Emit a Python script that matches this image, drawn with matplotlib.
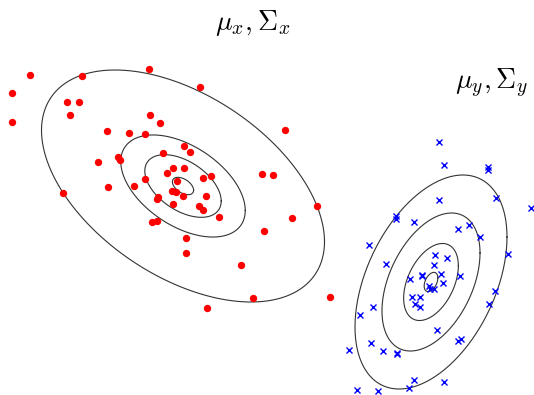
import matplotlib
matplotlib.use("Agg")
import matplotlib.pyplot as plt
import numpy as np

plt.rcParams["mathtext.fontset"] = "cm"

# Sample points (image-like coordinates, y grows downwards)
x_pts = np.array([
    (30, 75), (82, 76), (149, 69), (200, 87), (12, 93), (67, 102), (79, 102),
    (70, 115), (12, 122), (150, 115), (160, 123), (285, 130), (107, 131),
    (129, 133), (145, 134), (184, 146), (190, 152), (163, 153), (118, 157),
    (120, 160), (98, 162), (173, 168), (184, 168), (167, 173), (262, 174),
    (273, 175), (203, 178), (211, 176), (145, 179), (177, 181), (108, 187),
    (134, 186), (172, 191), (176, 192), (63, 193), (183, 196), (206, 196),
    (158, 197), (157, 199), (173, 204), (199, 206), (203, 210), (317, 206),
    (219, 217), (292, 218), (152, 222), (157, 221), (264, 231), (186, 238),
    (186, 253), (241, 265), (253, 298), (330, 297), (207, 308),
])
y_pts = np.array([
    (439, 142), (444, 165), (488, 167), (488, 170), (439, 200), (496, 198),
    (531, 208), (396, 216), (396, 219), (414, 222), (458, 229), (469, 225),
    (480, 237), (369, 245), (508, 254), (435, 255), (447, 258), (386, 264),
    (434, 265), (422, 275), (422, 276), (441, 274), (410, 279), (460, 276),
    (443, 283), (429, 286), (434, 289), (430, 289), (495, 291), (412, 297),
    (420, 297), (415, 304), (420, 307), (489, 304), (373, 307), (360, 315),
    (437, 330), (458, 341), (461, 339), (371, 343), (349, 350), (383, 351),
    (397, 353), (397, 354), (414, 380), (409, 388), (444, 382), (357, 390),
    (378, 391),
])

# Gaussian parameters: mean, std devs, correlation
mu_x = (183, 186)
sd_x = (141.5, 116)
rho_x = 0.48
mu_y = (431, 282)
sd_y = (76, 107)
rho_y = -0.42

# Mahalanobis radii of the drawn contours
levels_x = [0.075, 0.27, 0.44, 1.0]
levels_y = [0.09, 0.36, 0.645, 1.0]


def contour_ellipse(ax, mu, sd, rho, radii):
    cov = np.array([[sd[0] ** 2, rho * sd[0] * sd[1]],
                    [rho * sd[0] * sd[1], sd[1] ** 2]])
    L = np.linalg.cholesky(cov)
    t = np.linspace(0, 2 * np.pi, 300)
    circ = np.vstack([np.cos(t), np.sin(t)])
    for r in radii:
        pts = r * (L @ circ)
        ax.plot(mu[0] + pts[0], mu[1] + pts[1], color="#333333", lw=0.8)


fig = plt.figure(figsize=(5.34, 3.95), dpi=100)
ax = fig.add_axes([0, 0, 1, 1])

contour_ellipse(ax, mu_x, sd_x, rho_x, levels_x)
contour_ellipse(ax, mu_y, sd_y, rho_y, levels_y)

ax.plot(x_pts[:, 0], x_pts[:, 1], "o", color="red", ms=5.3, mec="none")
ax.plot(y_pts[:, 0], y_pts[:, 1], "x", color="blue", ms=4.5, mew=1.0)

ax.text(253, 30, r"$\mu_x, \Sigma_x$", fontsize=20, ha="center", va="baseline")
ax.text(492, 89, r"$\mu_y, \Sigma_y$", fontsize=20, ha="center", va="baseline")

ax.set_xlim(0, 534)
ax.set_ylim(395, 0)
ax.axis("off")

plt.savefig("out.png", dpi=100)
plt.close()
